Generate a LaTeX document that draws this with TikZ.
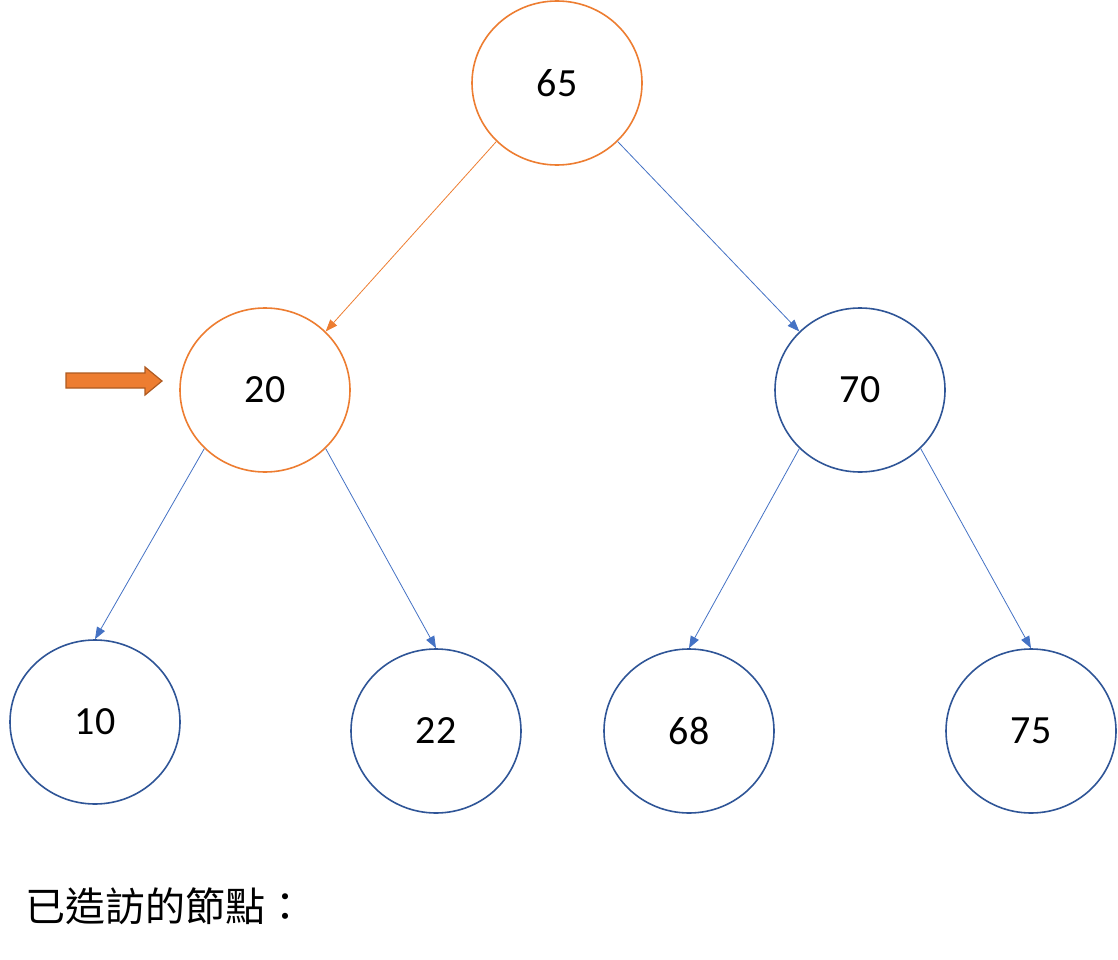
\documentclass[tikz,border=0pt]{standalone}
\usepackage{fontspec}
\setmainfont{Carlito}
\newfontfamily\cjk{Noto Sans CJK TC}
\usetikzlibrary{shapes.geometric,arrows.meta}
\definecolor{orn}{HTML}{ED7D31}
\definecolor{navy}{HTML}{2F5597}
\definecolor{blu}{HTML}{4472C4}
\definecolor{ornd}{HTML}{AE5A21}
\begin{document}
\begin{tikzpicture}[x=1pt,y=-1pt,
  tn/.style={ellipse,draw=navy,line width=1.6pt,fill=white,minimum width=170pt,minimum height=164pt,inner sep=0pt,font=\fontsize{40}{44}\selectfont},
  vis/.style={tn,draw=orn},
  ed/.style={draw=blu,line width=0.8pt,-{Triangle[length=12pt,width=9pt]}},
  edo/.style={ed,draw=orn,-{Triangle[length=12pt,width=9pt]}},
  ptrsty/.style={draw=ornd,fill=orn,line width=1.2pt,line join=miter}]
\useasboundingbox (0,0) rectangle (1118,960);
\node[vis] (n65) at (557,83) {65};
\node[vis] (n20) at (265,390) {20};
\node[tn] (n70) at (860,390) {70};
\node[tn] (n10) at (95,722) {10};
\node[tn] (n22) at (436,731) {22};
\node[tn] (n68) at (689,731) {68};
\node[tn] (n75) at (1031,731) {75};
\draw[edo] (n65.south west) -- (n20.north east);
\draw[ed] (n65.south east) -- (n70.north west);
\draw[ed] (n20.south west) -- (n10.north);
\draw[ed] (n20.south east) -- (n22.north);
\draw[ed] (n70.south west) -- (n68.north);
\draw[ed] (n70.south east) -- (n75.north);
\draw[ptrsty] (66,373) -- (145,373) -- (145,367) -- (162,381) -- (145,395) -- (145,388) -- (66,388) -- cycle;
\node[anchor=west,font=\cjk\fontsize{40}{44}\selectfont] (lbl) at (22,906) {已造訪的節點：};
\end{tikzpicture}
\end{document}
